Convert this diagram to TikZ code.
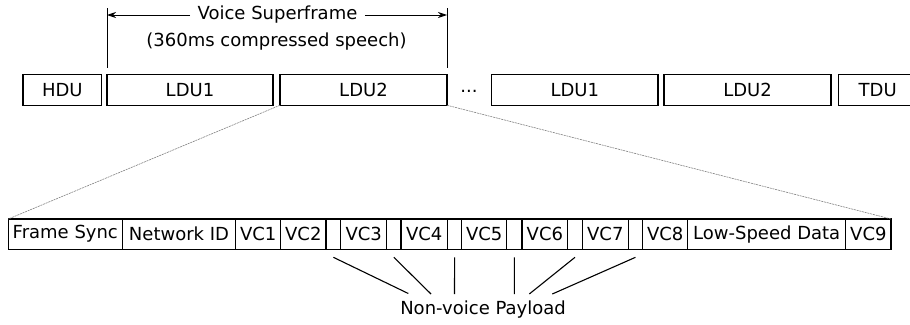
\documentclass[tikz,border=0pt]{standalone}
\usepackage{fontspec}
\setmainfont{DejaVu Sans}
\usetikzlibrary{arrows.meta,calc}
\begin{document}
\begin{tikzpicture}[x=1pt,y=-1pt,
  every node/.style={font=\fontsize{18}{21.6}\selectfont},
  topbox/.style={draw, line width=1.1pt, minimum height=31pt, inner sep=0pt, outer sep=0pt},
  cell/.style={draw, line width=1.1pt, minimum height=30.3pt, inner sep=0pt, outer sep=0pt, anchor=west},
  zoomline/.style={gray, line width=0.6pt, dash pattern=on 2pt off 0.8pt},
  payline/.style={line width=1.1pt},
  sfarrow/.style={line width=0.9pt, -{Stealth[length=9pt,width=6pt]}}]
\useasboundingbox (0,0) rectangle (910,324);
% top row
\node[topbox, minimum width=78.7pt] (hdu) at (62.35,89.75) {HDU};
\node[topbox, minimum width=166pt] (ldu1) at (190,89.75) {LDU1};
\node[topbox, minimum width=167pt] (ldu2) at (363.5,89.75) {LDU2};
\node (dots) at (469,91) {...};
\node[topbox, minimum width=166.3pt] (ldu1b) at (574.85,89.75) {LDU1};
\node[topbox, minimum width=167pt] (ldu2b) at (747.5,89.75) {LDU2};
\node[topbox, minimum width=78.7pt] (tdu) at (877.65,89.75) {TDU};
% superframe
\coordinate (sfl) at (107,8);
\coordinate (sfr) at (447,8);
\draw[line width=0.9pt] (sfl) -- (ldu1.north west |- 0,68);
\draw[line width=0.9pt] (sfr) -- (ldu2.north east |- 0,68);
\node (vs) at (277.5,15) {Voice Superframe};
\node (cs) at (276.5,42) {(360ms compressed speech)};
\draw[sfarrow] (vs.west) ++(-4,0) coordinate (vsl) -- (sfl |- vs.west);
\draw[sfarrow] (vs.east) ++(4,0) coordinate (vsr) -- (sfr |- vs.east);
% bottom row
\coordinate (start) at (8.3,234.15);
\node[cell, minimum width=114pt] (fs) at (start) {Frame Sync};
\node[cell, minimum width=113.4pt] (nid) at (fs.east) {Network ID};
\node[cell, minimum width=45pt] (vc1) at (nid.east) {VC1};
\node[cell, minimum width=45.3pt] (vc2) at (vc1.east) {VC2};
\node[cell, minimum width=14.7pt] (b1) at (vc2.east) {};
\node[cell, minimum width=46pt] (vc3) at (b1.east) {VC3};
\node[cell, minimum width=14.3pt] (b2) at (vc3.east) {};
\node[cell, minimum width=46.5pt] (vc4) at (b2.east) {VC4};
\node[cell, minimum width=14.2pt] (b3) at (vc4.east) {};
\node[cell, minimum width=45pt] (vc5) at (b3.east) {VC5};
\node[cell, minimum width=15.3pt] (b4) at (vc5.east) {};
\node[cell, minimum width=45.7pt] (vc6) at (b4.east) {VC6};
\node[cell, minimum width=14.6pt] (b5) at (vc6.east) {};
\node[cell, minimum width=46pt] (vc7) at (b5.east) {VC7};
\node[cell, minimum width=14.4pt] (b6) at (vc7.east) {};
\node[cell, minimum width=45pt] (vc8) at (b6.east) {VC8};
\node[cell, minimum width=158pt] (lsd) at (vc8.east) {Low-Speed Data};
\node[cell, minimum width=45.3pt] (vc9) at (lsd.east) {VC9};
% zoom lines
\draw[zoomline] (ldu2.south west) -- (fs.north west);
\draw[zoomline] (ldu2.south east) -- (vc9.north east);
% payload
\node (nvp) at (483,310) {Non-voice Payload};
\coordinate (e1) at (408.3,293.5);
\coordinate (e2) at (431,294);
\coordinate (e3) at (454.5,294);
\coordinate (e4) at (514.3,294);
\coordinate (e5) at (529.3,294);
\coordinate (e6) at (552.3,294);
\draw[payline] ($(b1.south)+(0,8)$) -- (e1);
\draw[payline] ($(b2.south)+(0,8)$) -- (e2);
\draw[payline] ($(b3.south)+(0,8)$) -- (e3);
\draw[payline] ($(b4.south)+(0,8)$) -- (e4);
\draw[payline] ($(b5.south)+(0,8)$) -- (e5);
\draw[payline] ($(b6.south)+(0,8)$) -- (e6);
\end{tikzpicture}
\end{document}
